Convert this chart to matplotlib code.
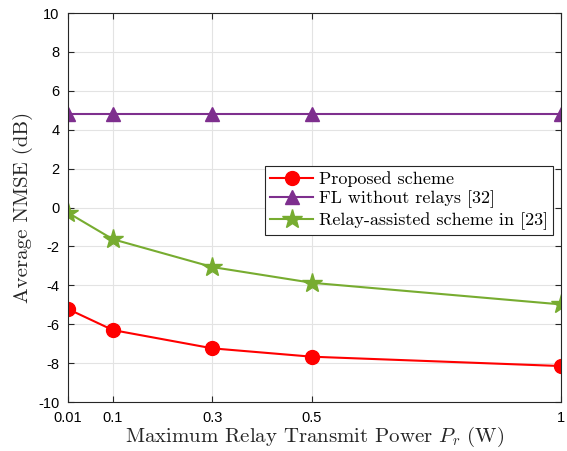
import numpy as np
import matplotlib.pyplot as plt

# datos
power = [0.01, 0.1, 0.3, 0.5, 1.0]
proposed = [-5.22, -6.3, -7.24, -7.67, -8.15]
no_relay = [4.8, 4.8, 4.8, 4.8, 4.8]
relay_23 = [-0.27, -1.63, -3.06, -3.87, -4.98]

xticks = [0.01, 0.1, 0.3, 0.5, 1]
xtick_labels = ['0.01', '0.1', '0.3', '0.5', '1']
yticks = np.arange(-10, 11, 2)

plt.rcParams['mathtext.fontset'] = 'cm'

fig = plt.figure(figsize=(5.67, 4.51), dpi=100)
ax = fig.add_axes([0.12, 0.1086, 0.869, 0.8625])

ax.plot(power, proposed, '-o', color='#FF0000', lw=1.5, ms=10, label='Proposed scheme')
ax.plot(power, no_relay, '-^', color='#7E2F8E', lw=1.5, ms=10, label='FL without relays [32]')
ax.plot(power, relay_23, '-*', color='#77AC30', lw=1.5, ms=15, label='Relay-assisted scheme in [23]')

ax.set_xlim(0.01, 1)
ax.set_ylim(-10, 10)
ax.set_xticks(xticks)
ax.set_xticklabels(xtick_labels)
ax.set_yticks(yticks)
ax.set_yticklabels([str(v) for v in yticks])
ax.grid(True, color='#E3E3E3', lw=0.8)
ax.set_axisbelow(True)
ax.tick_params(direction='in', top=True, right=True, length=4, labelsize=10.5, color='#262626')
ax.tick_params(axis='x', pad=6.5)
ax.tick_params(axis='y', pad=6)
for lab in ax.get_xticklabels() + ax.get_yticklabels():
    lab.set_fontfamily('Liberation Sans')
for s in ax.spines.values():
    s.set_color('#262626')
    s.set_linewidth(0.8)

ax.set_xlabel('Maximum Relay Transmit Power $P_r$ (W)', fontfamily='cmr10', fontsize=15,
              color='#262626', labelpad=0)
ax.set_ylabel('Average NMSE (dB)', fontfamily='cmr10', fontsize=15, color='#262626', labelpad=4)

leg = ax.legend(loc='upper right', bbox_to_anchor=(0.985, 0.607), prop={'family': 'cmr10', 'size': 13},
                fancybox=False, edgecolor='#262626', framealpha=1, borderpad=0.3, labelspacing=0.2,
                handlelength=2.4, handletextpad=0.3, borderaxespad=0)
leg.get_frame().set_linewidth(0.8)

fig.savefig('out.png', dpi=100)
